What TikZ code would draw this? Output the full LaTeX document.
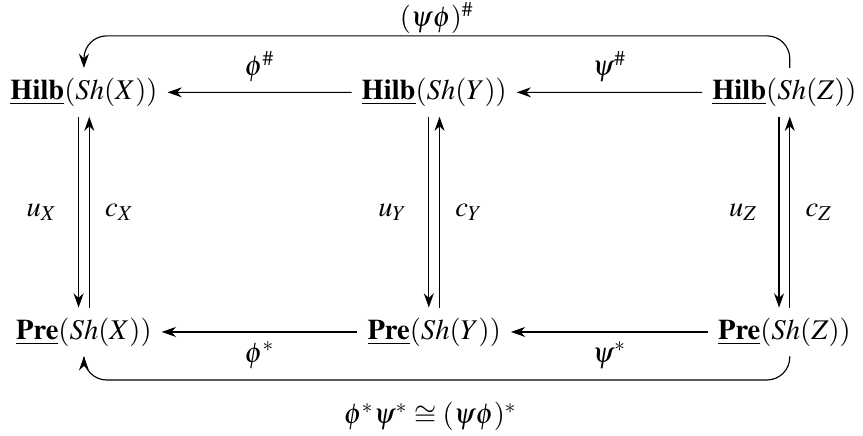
\documentclass[tikz,border=0pt]{standalone}
\usepackage{amsmath}
\usepackage{mathptmx}
\usetikzlibrary{arrows.meta}

\begin{document}
\begin{tikzpicture}[scale=0.94, >={Stealth[length=5pt,width=3.5pt]}]
    \useasboundingbox (0, 0) rectangle (11.31, 5.71);

    % Hilbert objects
    \node (hX) at (1.10, 4.50) {$\underline{\mathbf{Hilb}}(Sh(X))$};
    \node (hY) at (5.69, 4.50) {$\underline{\mathbf{Hilb}}(Sh(Y))$};
    \node (hZ) at (10.28, 4.50) {$\underline{\mathbf{Hilb}}(Sh(Z))$};

    % Presheaf objects
    \node (pX) at (1.10, 1.36) {$\underline{\mathbf{Pre}}(Sh(X))$};
    \node (pY) at (5.69, 1.36) {$\underline{\mathbf{Pre}}(Sh(Y))$};
    \node (pZ) at (10.28, 1.36) {$\underline{\mathbf{Pre}}(Sh(Z))$};

    % Horizontal maps
    \draw[->] (hY) -- node[above] {$\phi^{\#}$} (hX);
    \draw[->] (hZ) -- node[above] {$\psi^{\#}$} (hY);
    \draw[->] (pY) -- node[below] {$\phi^{*}$} (pX);
    \draw[->] (pZ) -- node[below] {$\psi^{*}$} (pY);

    % Vertical pairs
    \draw[->] ([xshift=-2pt]hX.south) -- node[left=4pt] {$u_X$} ([xshift=-2pt]pX.north);
    \draw[->] ([xshift=2pt]pX.north) -- node[right=2pt] {$c_X$} ([xshift=2pt]hX.south);
    \draw[->] ([xshift=-2pt]hY.south) -- node[left=4pt] {$u_Y$} ([xshift=-2pt]pY.north);
    \draw[->] ([xshift=2pt]pY.north) -- node[right=2pt] {$c_Y$} ([xshift=2pt]hY.south);
    \draw[->] ([xshift=-2pt]hZ.south) -- node[left=4pt] {$u_Z$} ([xshift=-2pt]pZ.north);
    \draw[->] ([xshift=2pt]pZ.north) -- node[right=2pt] {$c_Z$} ([xshift=2pt]hZ.south);

    % Composites
    \draw[->, rounded corners=8pt] ([xshift=2pt]hZ.north) -- ([xshift=2pt]hZ.north |- 0, 5.24)
        -| node[pos=0.25, above, inner sep=0.5pt] {$(\psi\phi)^{\#}$} (hX.north);
    \draw[->, rounded corners=8pt] ([xshift=2pt]pZ.south) -- ([xshift=2pt]pZ.south |- 0, 0.73)
        -| (pX.south);

    \node[inner sep=1pt] (iso) at (5.64, 0.25) {$\phi^{*}\psi^{*} \cong (\psi\phi)^{*}$};
\end{tikzpicture}
\end{document}
